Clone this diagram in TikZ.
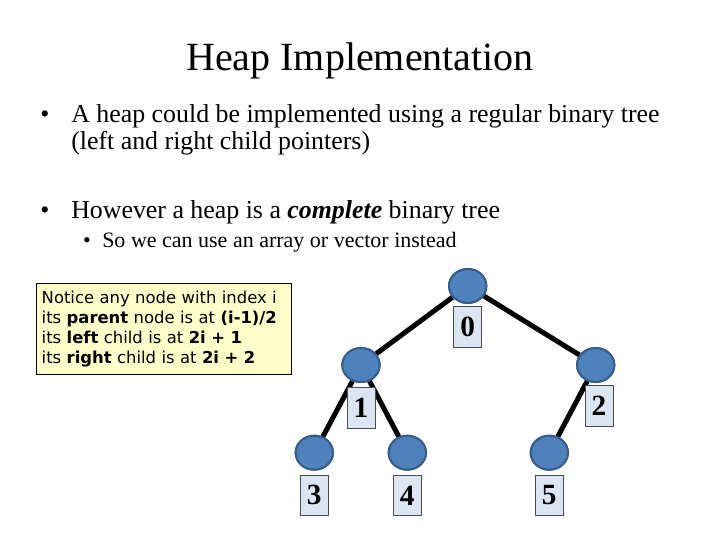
\documentclass[tikz,border=0pt]{standalone}
\usepackage{fontspec}
\setmainfont{Liberation Serif}
\newfontfamily\notefont{DejaVu Sans}
\usetikzlibrary{shapes.geometric}
\usetikzlibrary{positioning}

\definecolor{heapblue}{RGB}{79,129,189}
\definecolor{heapedge}{RGB}{56,93,138}
\definecolor{idxfill}{RGB}{220,230,242}
\definecolor{notefill}{RGB}{255,255,204}

\tikzset{
  heapnode/.style={ellipse, fill=heapblue, draw=heapedge, line width=1.5pt, minimum width=28pt, minimum height=25.5pt, inner sep=0pt},
  idxbox/.style={rectangle, fill=idxfill, draw=black!70, line width=0.5pt, minimum width=21pt, minimum height=30.5pt, inner sep=0pt, font=\fontsize{22}{22}\selectfont\bfseries},
  treeline/.style={line width=3.75pt, black},
  notebox/.style={rectangle, fill=notefill, draw=black, line width=0.6pt, inner xsep=4pt, inner ysep=5.5pt, text width=183pt, align=left, font=\notefont\fontsize{12.3}{15}\selectfont}
}

\begin{document}
\begin{tikzpicture}[x=0.75pt,y=0.75pt,yscale=-1,xscale=1]
\useasboundingbox (0,0) rectangle (720,540);

% Text Node
\node [anchor=base] (title) at (360,70) {\fontsize{30}{34}\selectfont Heap Implementation};
% Text Node
\node [anchor=base, inner sep=0pt] (b1) at (45,122) {\fontsize{19.4}{22}\selectfont\textbullet};
\node [anchor=base west, inner sep=0pt] (t1) at (71,122) {\fontsize{19.4}{22}\selectfont A heap could be implemented using a regular binary tree};
\node [anchor=base west, inner sep=0pt] (t1b) at (71,149) {\fontsize{19.4}{22}\selectfont (left and right child pointers)};
% Text Node
\node [anchor=base, inner sep=0pt] (b2) at (45,218) {\fontsize{19.4}{22}\selectfont\textbullet};
\node [anchor=base west, inner sep=0pt] (t2) at (71,218) {\fontsize{19.4}{22}\selectfont However a heap is a \textbf{\textit{complete}} binary tree};
% Text Node
\node [anchor=base, inner sep=0pt] (b3) at (87,247) {\fontsize{16.5}{18}\selectfont\textbullet};
\node [anchor=base west, inner sep=0pt] (t3) at (102,247) {\fontsize{16.5}{18}\selectfont So we can use an array or vector instead};

% Note box
\node [notebox, anchor=north west] (note) at (36,283) {%
Notice any node with index i\\
its \textbf{parent} node is at \textbf{(i-1)/2}\\
its \textbf{left} child is at \textbf{2i + 1}\\
its \textbf{right} child is at \textbf{2i + 2}};

% Heap nodes
\node [heapnode] (n0) at (467.7,286) {};
\node [heapnode] (n1) at (361,365) {};
\node [heapnode] (n2) at (595.7,365) {};
\node [heapnode] (n3) at (314.3,452.7) {};
\node [heapnode] (n4) at (407.3,452.7) {};
\node [heapnode] (n5) at (549.3,452.7) {};

%Straight Lines
\draw [treeline] (n0) -- (n1);
\draw [treeline] (n0) -- (n2);
\draw [treeline] (n1) -- (n3);
\draw [treeline] (n1) -- (n4);
\draw [treeline] (n2) -- (n5);
% redraw nodes above the lines
\foreach \n in {n0,n1,n2,n3,n4,n5}
  \path (\n) node [heapnode] {};

% Index boxes
\node [idxbox, below=1.5pt of n0] (i0) {0};
\node [idxbox, below=3pt of n1] (i1) {1};
\node [idxbox, below=1.5pt of n2, xshift=2.5pt] (i2) {2};
\node [idxbox, below=3pt of n3] (i3) {3};
\node [idxbox, below=3pt of n4] (i4) {4};
\node [idxbox, below=3pt of n5] (i5) {5};

\end{tikzpicture}
\end{document}
